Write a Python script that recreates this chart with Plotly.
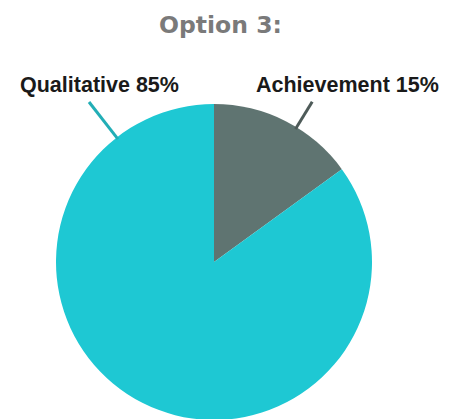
import math
import plotly.graph_objects as go

# Data
labels = ["Achievement", "Qualitative"]
values = [15, 85]
percent_text = ["Achievement 15%", "Qualitative 85%"]
colors = ["#5F7471", "#1EC8D3"]
title_text = "Option 3:"

W, H = 454, 419
OFF = 8  # page body margin offset
cx, cy, r = 214 - OFF, 262 - OFF, 158  # pixel geometry of pie (figure coords)

fig = go.Figure(go.Pie(
    labels=labels, values=values, sort=False, direction="clockwise", rotation=0,
    marker=dict(colors=colors, line=dict(width=0)),
    textinfo="none", hoverinfo="label+percent", showlegend=False,
    domain=dict(x=[(cx - r) / W, (cx + r) / W], y=[1 - (cy + r) / H, 1 - (cy - r) / H]),
))

def px(x, y):
    return x / W, 1 - y / H

# leader lines: angle clockwise from top (deg), inner radius, outer radius
leaders = [
    (31.5, r - 2, r + 30, "#4E5B59"),   # Achievement
    (-38.0, r - 2, r + 45, "#22AEB6"),  # Qualitative
]
shapes = []
for ang, r0, r1, col in leaders:
    a = math.radians(ang)
    x0, y0 = cx + r0 * math.sin(a), cy - r0 * math.cos(a)
    x1, y1 = cx + r1 * math.sin(a), cy - r1 * math.cos(a)
    p0, p1 = px(x0, y0), px(x1, y1)
    shapes.append(dict(type="line", xref="paper", yref="paper",
                       x0=p0[0], y0=p0[1], x1=p1[0], y1=p1[1],
                       line=dict(color=col, width=3)))

label_pos = [(347 - OFF, 85 - OFF), (99 - OFF, 85 - OFF)]
annotations = []
for txt, (x, y) in zip(percent_text, label_pos):
    ax, ay = px(x, y)
    annotations.append(dict(text=f"<b>{txt}</b>", x=ax, y=ay, xref="paper", yref="paper",
                            showarrow=False, xanchor="center", yanchor="middle",
                            font=dict(family="Liberation Sans, Arial", size=21.5, color="#1a1a1a")))
tx, ty = px(220 - OFF, 25 - OFF)
annotations.append(dict(text=f"<b>{title_text}</b>", x=tx, y=ty, xref="paper", yref="paper",
                        showarrow=False, xanchor="center", yanchor="middle",
                        font=dict(family="DejaVu Sans, Verdana", size=23.5, color="#7A7A7A")))

fig.update_layout(width=W, height=H, margin=dict(l=0, r=0, t=0, b=0),
                  paper_bgcolor="white", plot_bgcolor="white",
                  shapes=shapes, annotations=annotations)
fig.write_html("out.html")
